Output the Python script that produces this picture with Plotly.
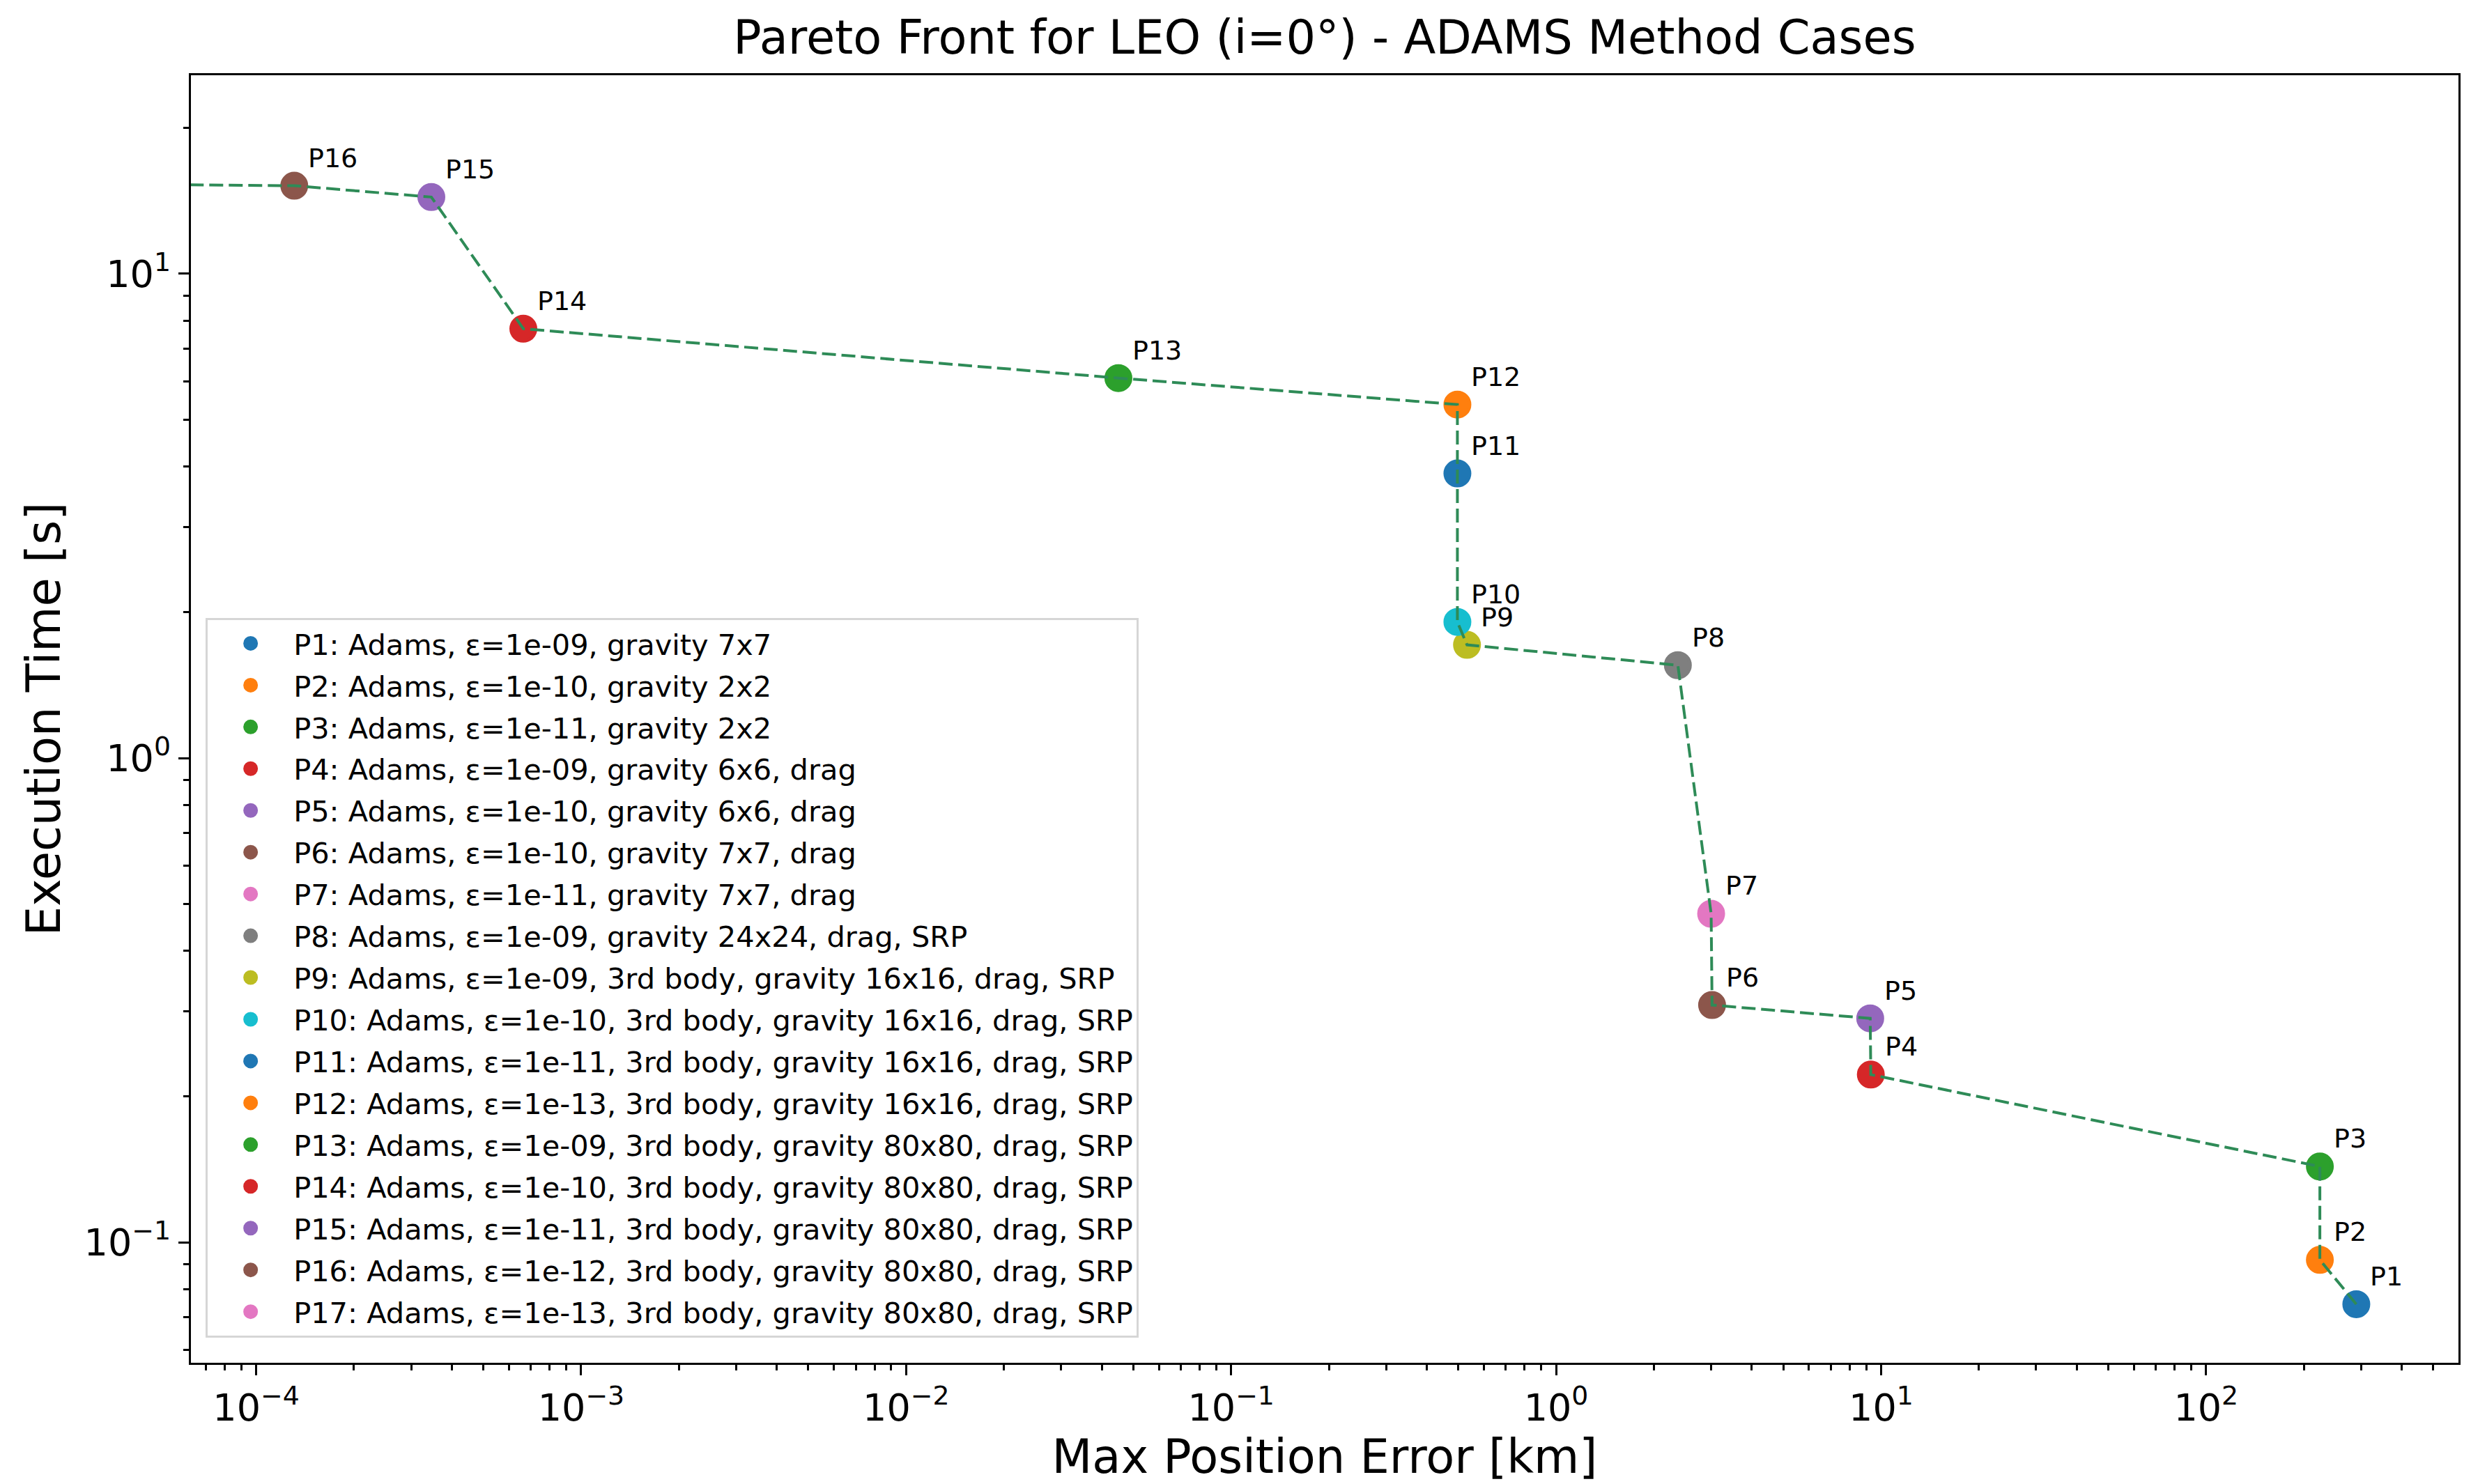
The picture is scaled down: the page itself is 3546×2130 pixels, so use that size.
import numpy as np
import plotly.graph_objects as go

# valores (caso LEO i=0, método Adams)
nomes = ["P1", "P2", "P3", "P4", "P5", "P6", "P7", "P8", "P9", "P10",
         "P11", "P12", "P13", "P14", "P15", "P16", "P17"]
descricoes = [
    "Adams, ε=1e-09, gravity 7x7",
    "Adams, ε=1e-10, gravity 2x2",
    "Adams, ε=1e-11, gravity 2x2",
    "Adams, ε=1e-09, gravity 6x6, drag",
    "Adams, ε=1e-10, gravity 6x6, drag",
    "Adams, ε=1e-10, gravity 7x7, drag",
    "Adams, ε=1e-11, gravity 7x7, drag",
    "Adams, ε=1e-09, gravity 24x24, drag, SRP",
    "Adams, ε=1e-09, 3rd body, gravity 16x16, drag, SRP",
    "Adams, ε=1e-10, 3rd body, gravity 16x16, drag, SRP",
    "Adams, ε=1e-11, 3rd body, gravity 16x16, drag, SRP",
    "Adams, ε=1e-13, 3rd body, gravity 16x16, drag, SRP",
    "Adams, ε=1e-09, 3rd body, gravity 80x80, drag, SRP",
    "Adams, ε=1e-10, 3rd body, gravity 80x80, drag, SRP",
    "Adams, ε=1e-11, 3rd body, gravity 80x80, drag, SRP",
    "Adams, ε=1e-12, 3rd body, gravity 80x80, drag, SRP",
    "Adams, ε=1e-13, 3rd body, gravity 80x80, drag, SRP",
]
erro_max = [290, 224, 224, 9.3, 9.26, 3.02, 3.0, 2.37, 0.532, 0.497,
            0.497, 0.497, 0.045, 6.64e-4, 3.46e-4, 1.31e-4, 4.0e-5]
tempo_exec = [0.0745, 0.092, 0.1434, 0.222, 0.290, 0.309, 0.477, 1.555, 1.713, 1.91,
              3.87, 5.37, 6.09, 7.70, 14.4, 15.2, 15.3]

cores = ["#1f77b4", "#ff7f0e", "#2ca02c", "#d62728", "#9467bd",
         "#8c564b", "#e377c2", "#7f7f7f", "#bcbd22", "#17becf"]

x_ticks = [1e-4, 1e-3, 1e-2, 1e-1, 1e0, 1e1, 1e2]
x_ticktext = ["10<sup>−4</sup>", "10<sup>−3</sup>", "10<sup>−2</sup>", "10<sup>−1</sup>",
              "10<sup>0</sup>", "10<sup>1</sup>", "10<sup>2</sup>"]
y_ticks = [1e-1, 1e0, 1e1]
y_ticktext = ["10<sup>−1</sup>", "10<sup>0</sup>", "10<sup>1</sup>"]

x_range = [np.log10(6.3e-5), np.log10(598)]
y_range = [np.log10(0.0564), np.log10(25.7)]

minor_x = [m * 10.0 ** k for k in range(-5, 3) for m in range(2, 10)]
minor_y = [m * 10.0 ** k for k in range(-2, 2) for m in range(2, 10)]

fonte = "DejaVu Sans"

fig = go.Figure()

for i, nome in enumerate(nomes):
    cor = cores[i % len(cores)]
    fig.add_trace(go.Scatter(
        x=[erro_max[i]], y=[tempo_exec[i]],
        mode="markers",
        name=f"{nome}: {descricoes[i]}",
        legendgroup=nome,
        marker=dict(size=35, color=cor, line=dict(width=5, color=cor)),
    ))

# linha da fronteira de Pareto
fig.add_trace(go.Scatter(
    x=erro_max, y=tempo_exec,
    mode="lines",
    line=dict(color="#2e8b57", width=4, dash="20px,8px"),
    showlegend=False,
    hoverinfo="skip",
))

for i, nome in enumerate(nomes):
    fig.add_annotation(
        x=np.log10(erro_max[i]), y=np.log10(tempo_exec[i]),
        text=nome, showarrow=False,
        xanchor="left", yanchor="bottom",
        xshift=18, yshift=16,
        font=dict(family=fonte, size=38, color="black"),
    )

eixo = dict(
    type="log",
    showline=True, linecolor="black", linewidth=3.3, mirror=True,
    showgrid=False, zeroline=False,
    ticks="outside", ticklen=15, tickwidth=3.3, tickcolor="black",
    tickfont=dict(family=fonte, size=54, color="black"),
)

fig.update_xaxes(
    **eixo,
    range=x_range,
    tickmode="array", tickvals=x_ticks, ticktext=x_ticktext,
    minor=dict(tickmode="array", tickvals=minor_x, ticks="outside",
               ticklen=8, tickwidth=2.5, tickcolor="black"),
    title=dict(text="Max Position Error [km]", font=dict(family=fonte, size=67, color="black"),
               standoff=8),
)
fig.update_yaxes(
    **eixo,
    range=y_range,
    tickmode="array", tickvals=y_ticks, ticktext=y_ticktext,
    minor=dict(tickmode="array", tickvals=minor_y, ticks="outside",
               ticklen=8, tickwidth=2.5, tickcolor="black"),
    title=dict(text="Execution Time [s]", font=dict(family=fonte, size=67, color="black"),
               standoff=13),
)

fig.update_layout(
    width=3546, height=2130,
    margin=dict(l=266, r=26, t=100, b=182),
    paper_bgcolor="white", plot_bgcolor="white",
    title=dict(text="Pareto Front for LEO (i=0°) - ADAMS Method Cases",
               x=0.5, xref="paper", y=1 - 46 / 2130, yref="container",
               xanchor="center", yanchor="middle",
               font=dict(family=fonte, size=67, color="black")),
    legend=dict(
        x=0.0065, y=0.0195, xanchor="left", yanchor="bottom",
        bgcolor="rgba(255,255,255,0.8)", bordercolor="#d6d6d6", borderwidth=3,
        font=dict(family=fonte, size=41.5, color="black"),
        tracegroupgap=3, itemwidth=113,
    ),
    font=dict(family=fonte, color="black"),
)

fig.write_html("out.html")
